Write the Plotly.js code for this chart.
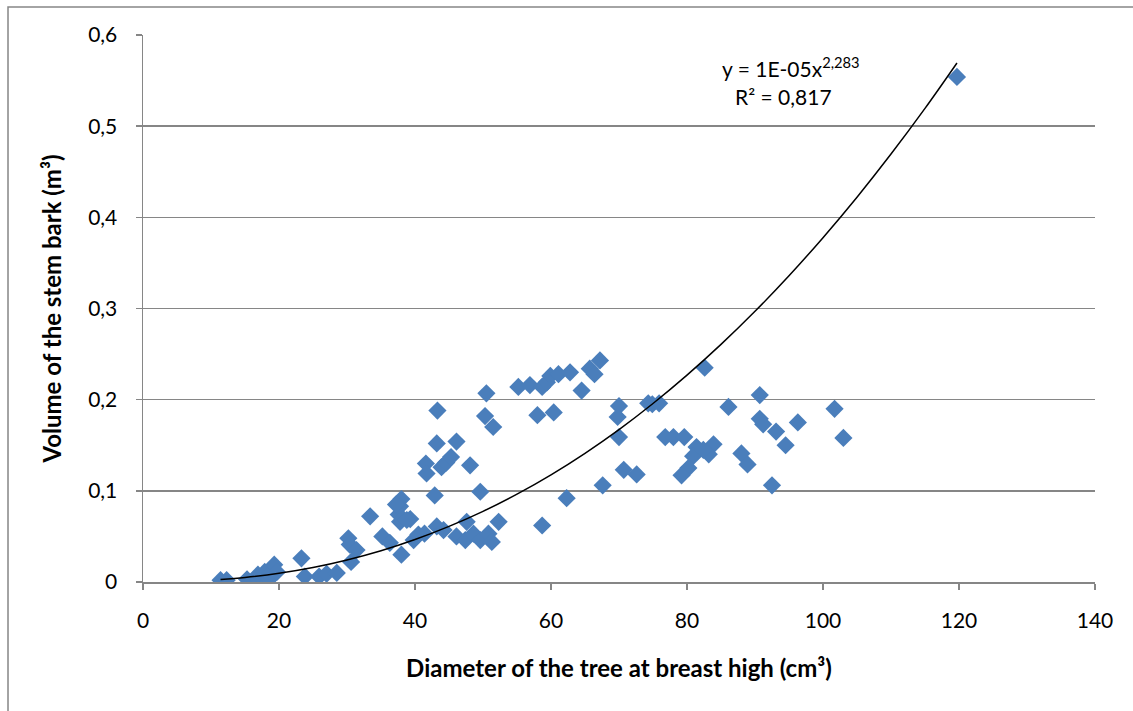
<!DOCTYPE html>
<html>
<head>
<meta charset="utf-8">
<script src="https://cdn.plot.ly/plotly-3.0.1.min.js"></script>
<style>html,body{margin:0;padding:0;background:#fff;}#chart{width:1133px;height:711px;}</style>
</head>
<body>
<div id="chart"></div>
<script>
// Observed data: diameter (cm) vs. bark volume (m3)
const diameter = [
  11.4, 12.3, 15.3, 17.0, 16.9, 17.9, 18.7, 19.3, 19.7, 18.2,
  23.3, 23.8, 25.9, 27.0, 28.5, 30.2, 30.4, 31.4, 30.6, 33.4,
  35.2, 36.3, 38.0, 38.0, 37.8, 37.6, 37.8, 39.3, 39.8, 41.4,
  41.6, 41.7, 43.2, 44.2, 46.1, 47.4, 47.6, 48.6, 49.6, 50.8,
  51.3, 52.3, 42.9, 49.6, 43.2, 46.1, 43.9, 44.6, 45.3, 48.1,
  43.3, 50.3, 51.5, 50.5, 55.2, 56.9, 58.7, 59.4, 59.9, 61.1,
  62.8, 64.5, 65.7, 66.4, 67.2, 58.0, 60.4, 58.7, 62.3, 67.6,
  70.0, 69.8, 70.0, 70.7, 72.6, 74.3, 74.9, 75.9, 76.8, 78.0,
  79.6, 81.4, 83.9, 83.2, 80.9, 80.2, 79.2, 82.4, 82.6, 86.1,
  88.0, 88.9, 90.7, 90.7, 91.2, 93.1, 94.5, 96.3, 92.5, 101.7,
  103.0, 119.7, 37.2, 38.8, 40.5
];
const volume = [
  0.002, 0.002, 0.003, 0.002, 0.008, 0.011, 0.004, 0.019, 0.011, 0.006,
  0.026, 0.006, 0.006, 0.009, 0.010, 0.048, 0.041, 0.035, 0.022, 0.072,
  0.050, 0.043, 0.030, 0.091, 0.083, 0.074, 0.066, 0.069, 0.046, 0.053,
  0.130, 0.119, 0.061, 0.057, 0.050, 0.046, 0.066, 0.053, 0.046, 0.053,
  0.044, 0.066, 0.095, 0.099, 0.152, 0.154, 0.126, 0.131, 0.137, 0.128,
  0.188, 0.182, 0.170, 0.207, 0.214, 0.216, 0.214, 0.219, 0.226, 0.228,
  0.230, 0.210, 0.234, 0.228, 0.243, 0.183, 0.186, 0.062, 0.092, 0.106,
  0.193, 0.181, 0.159, 0.123, 0.118, 0.196, 0.195, 0.196, 0.159, 0.159,
  0.159, 0.148, 0.151, 0.140, 0.138, 0.125, 0.117, 0.145, 0.235, 0.192,
  0.141, 0.129, 0.205, 0.179, 0.173, 0.165, 0.150, 0.175, 0.106, 0.190,
  0.158, 0.554, 0.085, 0.068, 0.052
];

// Power trend line
const trendX = [11.4, 15, 20, 25, 30, 35, 40, 45, 50, 55, 60, 65, 70, 75, 80, 85, 90, 95, 100, 105, 110, 115, 119.7];
const trendY = [0.0027, 0.0050, 0.0096, 0.0159, 0.0242, 0.0343, 0.0466, 0.0610, 0.0775, 0.0964, 0.1176, 0.1412, 0.1672, 0.1958, 0.2269, 0.2606, 0.2969, 0.3359, 0.3777, 0.4221, 0.4694, 0.5195, 0.5693];

const xTicks = [0, 20, 40, 60, 80, 100, 120, 140];
const yTicks = [0, 0.1, 0.2, 0.3, 0.4, 0.5, 0.6];
const yTickLabels = ['0', '0,1', '0,2', '0,3', '0,4', '0,5', '0,6'];

const equationText = 'y = 1E-05x<sup>2,283</sup>';
const r2Text = 'R² = 0,817';
const xTitle = 'Diameter of the tree at breast high (cm³)';
const yTitle = 'Volume of the stem bark (m³)';

const FONT = 'Lato, "Open Sans", sans-serif';
const GRAY = '#868686';

const traces = [
  {
    x: diameter, y: volume, type: 'scatter', mode: 'markers',
    marker: {symbol: 'diamond', size: 14, color: '#4a7ebb', line: {width: 0}},
    hoverinfo: 'x+y', showlegend: false
  },
  {
    x: trendX, y: trendY, type: 'scatter', mode: 'lines',
    line: {color: '#000000', width: 1.5, shape: 'spline'},
    showlegend: false, hoverinfo: 'skip'
  }
];

const layout = {
  width: 1133, height: 711,
  margin: {l: 143, r: 38, t: 35, b: 129},
  paper_bgcolor: '#ffffff', plot_bgcolor: '#ffffff',
  separators: ', ',
  font: {family: FONT, size: 21, color: '#000000'},
  showlegend: false,
  xaxis: {
    range: [0, 140], tickvals: xTicks, ticktext: xTicks.map(String),
    showgrid: false, zeroline: false,
    showline: true, linecolor: GRAY, linewidth: 1.5,
    ticks: 'outside', ticklen: 6, tickcolor: GRAY, tickwidth: 1.5,
    ticklabelstandoff: 13,
    tickfont: {family: FONT, size: 21, color: '#000'},
    title: {text: xTitle, font: {family: FONT, size: 24, color: '#000', weight: 'bold'}, standoff: 29}
  },
  yaxis: {
    range: [0, 0.6], tickvals: yTicks, ticktext: yTickLabels,
    showgrid: true, gridcolor: GRAY, gridwidth: 1.5, zeroline: false,
    showline: true, linecolor: GRAY, linewidth: 1.5,
    ticks: 'outside', ticklen: 6, tickcolor: GRAY, tickwidth: 1.5,
    ticklabelstandoff: 14,
    tickfont: {family: FONT, size: 21, color: '#000'},
    title: {text: yTitle, font: {family: FONT, size: 24, color: '#000', weight: 'bold'}, standoff: 20}
  },
  annotations: [
    {xref: 'x', yref: 'y', x: 95.3, y: 0.565, text: equationText, showarrow: false,
     font: {family: FONT, size: 21, color: '#000'}, xanchor: 'center', yanchor: 'middle'},
    {xref: 'x', yref: 'y', x: 94.2, y: 0.532, text: r2Text, showarrow: false,
     font: {family: FONT, size: 21, color: '#000'}, xanchor: 'center', yanchor: 'middle'}
  ],
  shapes: [
    {type: 'rect', xref: 'paper', yref: 'paper', x0: -0.1418, x1: 1.06, y0: -0.3, y1: 1.0512,
     line: {color: GRAY, width: 1.5}, fillcolor: 'rgba(0,0,0,0)', layer: 'below'}
  ]
};

Plotly.newPlot('chart', traces, layout, {displayModeBar: false, staticPlot: true});
</script>
</body>
</html>
